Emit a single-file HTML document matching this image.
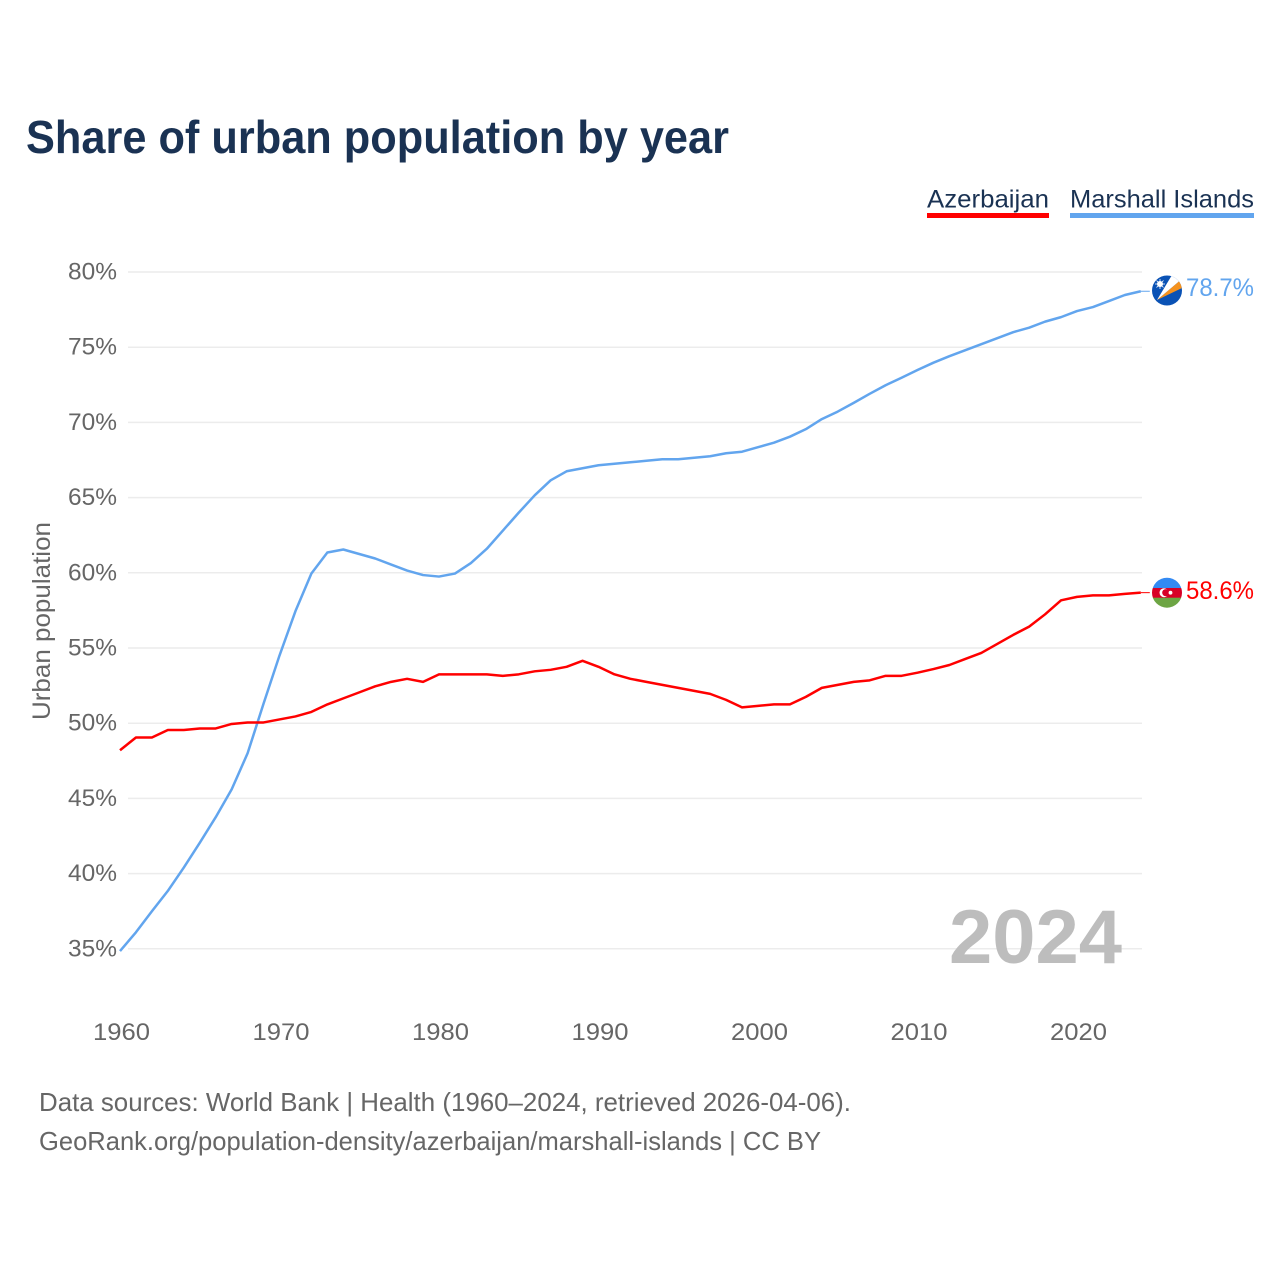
<!DOCTYPE html>
<html lang="en">
<head>
<meta charset="utf-8">
<title>Share of urban population by year</title>
<style>
html,body{margin:0;padding:0;background:#fff;}
svg{display:block;}
text{font-family:"Liberation Sans",sans-serif;}
</style>
</head>
<body>
<svg id="chart" xmlns="http://www.w3.org/2000/svg" width="1280" height="1280" viewBox="0 0 1280 1280">
  <defs>
    <clipPath id="flag-clip-mh"><circle cx="1167" cy="290.5" r="15"/></clipPath>
    <clipPath id="flag-clip-az"><circle cx="1167" cy="592.7" r="15"/></clipPath>
  </defs>
  <rect width="1280" height="1280" fill="#fff"/>
  <text x="26" y="153" font-size="46" font-weight="700" fill="#1a3253" textLength="703" lengthAdjust="spacingAndGlyphs">Share of urban population by year</text>

  <g>
    <g>
      <text x="927" y="207.5" font-size="25" fill="#1a3253" textLength="122" lengthAdjust="spacingAndGlyphs">Azerbaijan</text>
      <rect x="927" y="213" width="122" height="5" fill="#ff0000"/>
    </g>
    <g>
      <text x="1070" y="207.5" font-size="25" fill="#1a3253" textLength="184" lengthAdjust="spacingAndGlyphs">Marshall Islands</text>
      <rect x="1070" y="213" width="184" height="5" fill="#62a5ee"/>
    </g>
  </g>

  <g id="grid"></g>
  <g id="y-ticks"></g>
  <g id="x-ticks"></g>
  <text transform="translate(50,720) rotate(-90)" font-size="25" fill="#666" textLength="198" lengthAdjust="spacingAndGlyphs">Urban population</text>

  <text x="949" y="963" font-size="76" font-weight="700" fill="#bdbdbd" textLength="173" lengthAdjust="spacingAndGlyphs">2024</text>

  <g id="series"></g>

  <g clip-path="url(#flag-clip-mh)">
    <rect x="1150" y="273" width="34" height="36" fill="#0a52b5"/>
    <polygon points="1157,300 1180,280.5 1182,288" fill="#f5921e"/>
    <polygon points="1157,300 1172,275 1180,280.5" fill="#ffffff"/>
    <circle cx="1160" cy="284" r="3" fill="#ffffff"/>
    <path d="M1160 279v10M1155 284h10M1156.5 280.5l7 7M1163.500 280.500l-7 7" stroke="#fff" stroke-width="0.8"/>
  </g>
  <g clip-path="url(#flag-clip-az)">
    <rect x="1150" y="576" width="34" height="12.500" fill="#338af3"/>
    <rect x="1150" y="588" width="34" height="10" fill="#d80027"/>
    <rect x="1150" y="597.700" width="34" height="12" fill="#6da544"/>
    <circle cx="1164" cy="592.700" r="4.500" fill="#fff"/>
    <circle cx="1165.800" cy="592.700" r="3.600" fill="#d80027"/>
    <circle cx="1170.500" cy="592.700" r="1.900" fill="#fff"/>
  </g>

  <text id="value-marshall" x="1186" y="296" font-size="25" fill="#62a5ee" textLength="68" lengthAdjust="spacingAndGlyphs">78.7%</text>
  <text id="value-azerbaijan" x="1186" y="599" font-size="25" fill="#ff0000" textLength="68" lengthAdjust="spacingAndGlyphs">58.6%</text>

  <text x="39" y="1111" font-size="26" fill="#666" textLength="812" lengthAdjust="spacingAndGlyphs">Data sources: World Bank | Health (1960–2024, retrieved 2026-04-06).</text>
  <text x="39" y="1150" font-size="26" fill="#666" textLength="782" lengthAdjust="spacingAndGlyphs">GeoRank.org/population-density/azerbaijan/marshall-islands | CC BY</text>
</svg>
<script>
const startYear = 1960;
const yTickValues = [80, 75, 70, 65, 60, 55, 50, 45, 40, 35];
const xTickYears = [1960, 1970, 1980, 1990, 2000, 2010, 2020];
const azerbaijanValues = [48.2,49.05,49.05,49.55,49.55,49.65,49.65,49.95,50.05,50.05,50.25,50.45,50.75,51.25,51.65,52.05,52.45,52.75,52.95,52.75,53.25,53.25,53.25,53.25,53.15,53.25,53.45,53.55,53.75,54.15,53.75,53.25,52.95,52.75,52.55,52.35,52.15,51.95,51.55,51.05,51.15,51.25,51.25,51.75,52.35,52.55,52.75,52.85,53.15,53.15,53.36,53.6,53.87,54.27,54.67,55.27,55.87,56.42,57.24,58.17,58.4,58.5,58.5,58.6,58.68];
const marshallValues = [34.85,36.1,37.5,38.85,40.4,42.05,43.75,45.6,48.0,51.3,54.5,57.45,59.95,61.35,61.55,61.25,60.95,60.55,60.15,59.85,59.75,59.95,60.65,61.6,62.8,64.0,65.15,66.15,66.75,66.95,67.15,67.25,67.35,67.45,67.55,67.55,67.65,67.75,67.95,68.05,68.35,68.65,69.05,69.55,70.22,70.72,71.3,71.9,72.47,72.97,73.48,73.97,74.4,74.8,75.2,75.6,76.0,76.3,76.7,77.0,77.4,77.67,78.07,78.47,78.72];

const NS = 'http://www.w3.org/2000/svg';
function xScale(year) { return 120 + (year - startYear) * 15.95; }
function yScale(v) { return 272 + (80 - v) * 15.04; }

const gridGroup = document.getElementById('grid');
const yGroup = document.getElementById('y-ticks');
yTickValues.forEach(function (v) {
  const line = document.createElementNS(NS, 'line');
  
  
  line.setAttribute('x1', 128);
  line.setAttribute('x2', 1142);
  line.setAttribute('y1', yScale(v));
  line.setAttribute('y2', yScale(v));
  line.setAttribute('stroke', '#ececec');
  line.setAttribute('stroke-width', 1.5);
  gridGroup.appendChild(line);
  const label = document.createElementNS(NS, 'text');
  
  
  label.setAttribute('x', 68);
  label.setAttribute('y', yScale(v) + 7.5);
  label.setAttribute('font-size', 24.5);
  label.setAttribute('fill', '#666');
  label.setAttribute('textLength', 49);
  label.setAttribute('lengthAdjust', 'spacingAndGlyphs');
  label.textContent = v + '%';
  yGroup.appendChild(label);
});

const xGroup = document.getElementById('x-ticks');
xTickYears.forEach(function (year) {
  const label = document.createElementNS(NS, 'text');
  
  
  label.setAttribute('x', xScale(year) - 27);
  label.setAttribute('y', 1040);
  label.setAttribute('font-size', 24.5);
  label.setAttribute('fill', '#666');
  label.setAttribute('textLength', 57);
  label.setAttribute('lengthAdjust', 'spacingAndGlyphs');
  label.textContent = String(year);
  xGroup.appendChild(label);
});

const seriesGroup = document.getElementById('series');
function drawSeries(values, color, name) {
  const pts = values.map(function (v, i) {
    return xScale(startYear + i).toFixed(2) + ',' + yScale(v).toFixed(2);
  });
  const line = document.createElementNS(NS, 'polyline');
  
  
  line.setAttribute('points', pts.join(' '));
  line.setAttribute('fill', 'none');
  line.setAttribute('stroke', color);
  line.setAttribute('stroke-width', 2.5);
  line.setAttribute('stroke-linejoin', 'round');
  seriesGroup.appendChild(line);
  const lastX = xScale(startYear + values.length - 1);
  const lastY = yScale(values[values.length - 1]);
  const connector = document.createElementNS(NS, 'line');
  
  
  connector.setAttribute('x1', lastX);
  connector.setAttribute('x2', lastX + 9);
  connector.setAttribute('y1', lastY);
  connector.setAttribute('y2', lastY);
  connector.setAttribute('stroke', color);
  connector.setAttribute('stroke-width', 1);
  seriesGroup.appendChild(connector);
}
drawSeries(marshallValues, '#62a5ee', 'line-marshall-islands');
drawSeries(azerbaijanValues, '#ff0000', 'line-azerbaijan');
</script>
</body>
</html>
